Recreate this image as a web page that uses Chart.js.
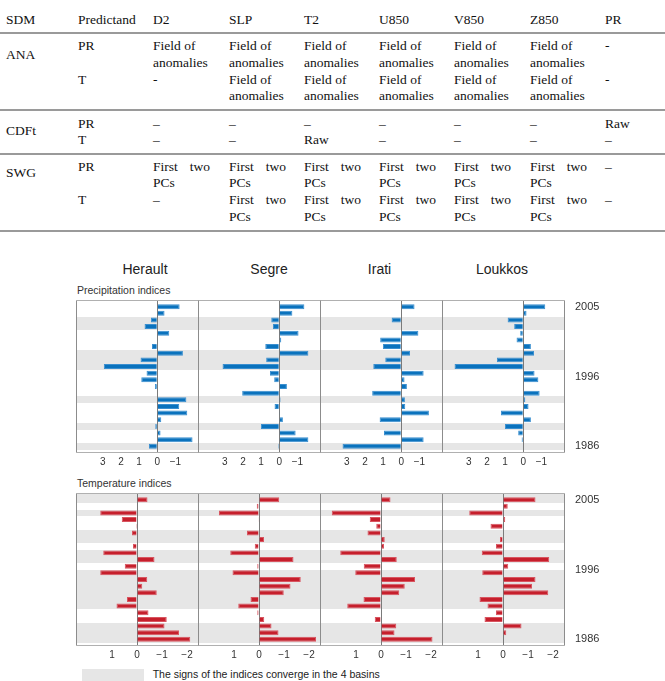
<!DOCTYPE html>
<html>
<head>
<meta charset="utf-8">
<script src="https://cdn.jsdelivr.net/npm/chart.js@4"></script>
<style>
body { margin: 0; background: #fff; width: 665px; height: 681px; overflow: hidden; position: relative; }
.cell { position: absolute; font: 13.5px 'Liberation Serif', 'Times New Roman', serif; color: #111; line-height: 16.5px; white-space: nowrap; }
.rule { position: absolute; left: 0; width: 665px; height: 2px; background: #9a9a9a; }
.lbl { position: absolute; font-family: 'Liberation Sans', Arial, sans-serif; color: #222; white-space: nowrap; line-height: 1; }
canvas { position: absolute; }
</style>
</head>
<body>

<div class="lbl" style="left:145px;top:261.5px;font-size:14px;transform:translateX(-50%)">Herault</div>
<div class="lbl" style="left:269px;top:261.5px;font-size:14px;transform:translateX(-50%)">Segre</div>
<div class="lbl" style="left:379.5px;top:261.5px;font-size:14px;transform:translateX(-50%)">Irati</div>
<div class="lbl" style="left:502px;top:261.5px;font-size:14px;transform:translateX(-50%)">Loukkos</div>
<div class="lbl" style="left:77px;top:284.7px;font-size:10.5px;color:#333">Precipitation indices</div>
<div class="lbl" style="left:77px;top:477.9px;font-size:10.5px;color:#333">Temperature indices</div>
<div style="position:absolute;left:82px;top:669px;width:62px;height:12px;background:#e6e6e6"></div>
<div class="lbl" style="left:152.7px;top:669.1px;font-size:10.5px;color:#222">The signs of the indices converge in the 4 basins</div>

<script>
// table
const tableCols = [6, 78, 153, 229, 304, 379, 454, 530, 605];
const tableHeader = ['SDM', 'Predictand', 'D2', 'SLP', 'T2', 'U850', 'V850', 'Z850', 'PR'];
const FA = ['Field of', 'anomalies'];
const FT = ['First two', 'PCs'];
const tableBlocks = [
  { sdm: 'ANA', sdmY: 55, rows: [
    { y: 46.7, pred: 'PR', cells: [FA, FA, FA, FA, FA, FA, ['-']] },
    { y: 80, pred: 'T', cells: [['-'], FA, FA, FA, FA, FA, ['-']] }] },
  { sdm: 'CDFt', sdmY: 131.7, rows: [
    { y: 124, pred: 'PR', cells: [['–'], ['–'], ['–'], ['–'], ['–'], ['–'], ['Raw']] },
    { y: 140, pred: 'T', cells: [['–'], ['–'], ['Raw'], ['–'], ['–'], ['–'], ['–']] }] },
  { sdm: 'SWG', sdmY: 173, rows: [
    { y: 167, pred: 'PR', cells: [FT, FT, FT, FT, FT, FT, ['–']] },
    { y: 200.7, pred: 'T', cells: [['–'], FT, FT, FT, FT, FT, ['–']] }] }
];
const tableRules = [32.3, 109, 153, 230];

function putText(txt, x, yc) {
  const d = document.createElement('div');
  d.className = 'cell';
  d.style.left = x + 'px';
  d.style.top = (yc - 8.25) + 'px';
  if (txt === 'First two') {
    d.innerHTML = '<span style="display:flex;justify-content:space-between;width:57px"><span>First</span><span>two</span></span>';
  } else {
    d.textContent = txt;
  }
  document.body.appendChild(d);
}
tableHeader.forEach((h, i) => putText(h, tableCols[i], 20.7));
tableBlocks.forEach(b => {
  putText(b.sdm, tableCols[0], b.sdmY);
  b.rows.forEach(r => {
    putText(r.pred, tableCols[1], r.y);
    r.cells.forEach((lines, j) => lines.forEach((t, k) => putText(t, tableCols[j + 2], r.y + k * 16.5)));
  });
});
tableRules.forEach(y => {
  const d = document.createElement('div');
  d.className = 'rule';
  d.style.top = y + 'px';
  document.body.appendChild(d);
});

// figure data
const basins = ['Herault', 'Segre', 'Irati', 'Loukkos'];
const rowIds = [1, 2, 3, 4, 5, 6, 7, 8, 9, 10, 11, 12, 13, 14, 15, 16, 17, 18, 19, 20, 21, 22];

const precipHerault = [-1.23, -0.40, 0.35, 0.70, -0.66, -0.04, 0.29, -1.41, 0.92, 2.94, 0.59, 0.88, 0.13, 0, -1.60, -1.21, -1.65, -0.22, 0.11, -0.18, -1.94, 0.46];
const precipSegre = [-1.38, -0.72, 0.44, 0.35, -1.06, -0.11, 0.77, -1.60, 0.72, 3.12, 0.51, 0.28, -0.42, 2.04, -0.07, 0.26, -0.04, -0.20, 1.01, -0.90, -1.60, 0.06];
const precipIrati = [-0.73, 0, 0.53, 0, -0.94, 1.16, 1.01, -0.48, 0.88, 1.54, -1.23, -0.18, -0.31, 1.60, -0.20, -0.22, -1.52, 1.19, 0, 0.95, -1.23, 3.23];
const precipLoukkos = [-1.21, -0.18, 0.86, 0.50, 0.17, 0.37, -0.42, -0.59, 1.45, 3.78, -0.62, -0.83, 0, -0.90, -0.11, -0.29, 1.23, -0.42, 1.01, 0.28, 0.09, 0.02];

const tempHerault = [-0.42, 0, 1.47, 0.61, 0.04, 0.20, 0, 0.16, 1.35, -0.70, 0.49, 1.47, -0.41, -0.21, -0.79, 0.40, 0.82, -0.46, -1.19, -1.10, -1.68, -2.13];
const tempSegre = [-0.81, 0.09, 1.60, 0.03, 0, 0.48, -0.20, 0.17, 1.15, -1.38, 0.07, 1.06, -1.67, -1.26, -0.99, 0.34, 0.83, 0.07, -0.21, -0.50, -0.78, -2.28];
const tempIrati = [-0.38, 0, 1.97, 0.45, 0.19, 0.54, -0.15, -0.12, 1.63, -0.63, 0.69, 1.03, -1.36, -0.95, -0.73, 0.70, 1.35, 0, 0.25, -0.61, -0.54, -2.06];
const tempLoukkos = [-1.30, -0.19, 1.35, -0.09, 0.50, 0, 0.12, 0.28, 0.85, -1.85, -0.21, 0.83, -1.30, -1.16, -1.81, 0.94, 0.62, 0.28, 0.74, -0.74, -0.13, 0];

// rows (1 = top) where the signs agree in the 4 basins
const precipBands = [3, 4, 8, 9, 10, 15, 19, 22];
const tempBands = [1, 3, 6, 7, 9, 10, 12, 13, 14, 15, 16, 17, 20, 21, 22];

const precipTicks = [3, 2, 1, 0, -1];
const tempTicks = [1, 0, -1, -2];
const yearLabels = ['2005', '1996', '1986'];
const yearRows = [1, 11.5, 22];

// layout
const panelLefts = [76, 198, 320, 442];
const panelW = 122, panelH = 153;
const precipTop = 300, tempTop = 493;
const pad = 10, axisH = 22, yrW = 40;

Chart.defaults.font.family = "'Liberation Sans', Arial, sans-serif";

const panelPlugin = {
  id: 'panel',
  beforeDraw(chart, args, opts) {
    const { ctx, chartArea: a, scales: { y } } = chart;
    const rh = Math.abs(y.getPixelForValue(2) - y.getPixelForValue(1));
    ctx.save();
    ctx.fillStyle = '#e6e6e6';
    opts.bands.forEach(r => {
      const c = y.getPixelForValue(r);
      let t = Math.round(c - rh / 2), b = Math.round(c + rh / 2);
      if (r === rowIds[0]) t = a.top;
      ctx.fillRect(a.left, t, a.right - a.left, b - t);
    });
    ctx.restore();
  },
  afterDraw(chart) {
    const { ctx, chartArea: a } = chart;
    const L = Math.round(a.left) + 0.5, R = Math.round(a.right) + 0.5;
    const T = Math.round(a.top) + 0.5, B = Math.round(a.bottom) - 0.5;
    ctx.save();
    ctx.lineWidth = 1;
    ctx.strokeStyle = '#b0b0b0';
    ctx.beginPath();
    ctx.moveTo(L, T); ctx.lineTo(R, T);
    ctx.moveTo(L, B); ctx.lineTo(R, B);
    ctx.stroke();
    ctx.strokeStyle = '#8c8c8c';
    ctx.beginPath();
    ctx.moveTo(L, T); ctx.lineTo(L, B);
    ctx.moveTo(R, T); ctx.lineTo(R, B);
    ctx.stroke();
    ctx.restore();
  }
};

function fmt(v) { return v < 0 ? '\u2212' + (-v) : String(v); }

function makePanel(left, top, values, fill, edge, bands, range, ticks, showYears) {
  const cv = document.createElement('canvas');
  cv.width = panelW + 2 * pad + (showYears ? yrW : 0);
  cv.height = pad + panelH + axisH;
  cv.style.left = (left - pad) + 'px';
  cv.style.top = (top - pad) + 'px';
  document.body.appendChild(cv);

  new Chart(cv, {
    type: 'bar',
    data: {
      datasets: [{
        data: values.map((v, i) => ({ x: v, y: rowIds[i] })),
        backgroundColor: fill,
        borderColor: edge,
        borderWidth: 1,
        barPercentage: 0.75,
        categoryPercentage: 1
      }]
    },
    options: {
      indexAxis: 'y',
      responsive: false,
      animation: false,
      devicePixelRatio: 1,
      layout: { padding: { top: pad, left: pad, right: pad, bottom: 0 } },
      plugins: { legend: { display: false }, tooltip: { enabled: false }, panel: { bands: bands } },
      scales: {
        x: {
          type: 'linear', min: range[0], max: range[1], reverse: true,
          afterBuildTicks: s => { s.ticks = ticks.map(v => ({ value: v })); },
          afterFit: s => { s.height = axisH; },
          grid: { drawTicks: false, color: c => (c.tick && c.tick.value === 0) ? '#7a7a7a' : 'rgba(0,0,0,0)' },
          border: { display: false },
          ticks: { padding: 3, color: '#333', font: { size: 10 }, callback: v => fmt(v) }
        },
        y: {
          type: 'linear', position: 'right', display: showYears, offset: false,
          min: 0, max: rowIds.length + 1, reverse: true,
          afterBuildTicks: s => { s.ticks = yearRows.map(v => ({ value: v })); },
          afterFit: s => { s.width = showYears ? yrW : 0; },
          grid: { display: false, offset: false },
          border: { display: false },
          ticks: { padding: 3, color: '#333', font: { size: 11 }, callback: v => yearLabels[yearRows.indexOf(v)] }
        }
      }
    },
    plugins: [panelPlugin]
  });
}

const precipSeries = [precipHerault, precipSegre, precipIrati, precipLoukkos];
const tempSeries = [tempHerault, tempSegre, tempIrati, tempLoukkos];

basins.forEach((b, i) => {
  makePanel(panelLefts[i], precipTop, precipSeries[i], '#0a72bd', '#3a8fd0', precipBands, [-2.24, 4.47], precipTicks, i === 3);
  makePanel(panelLefts[i], tempTop, tempSeries[i], '#c61f2c', '#d85560', tempBands, [-2.44, 2.44], tempTicks, i === 3);
});
</script>
</body>
</html>
